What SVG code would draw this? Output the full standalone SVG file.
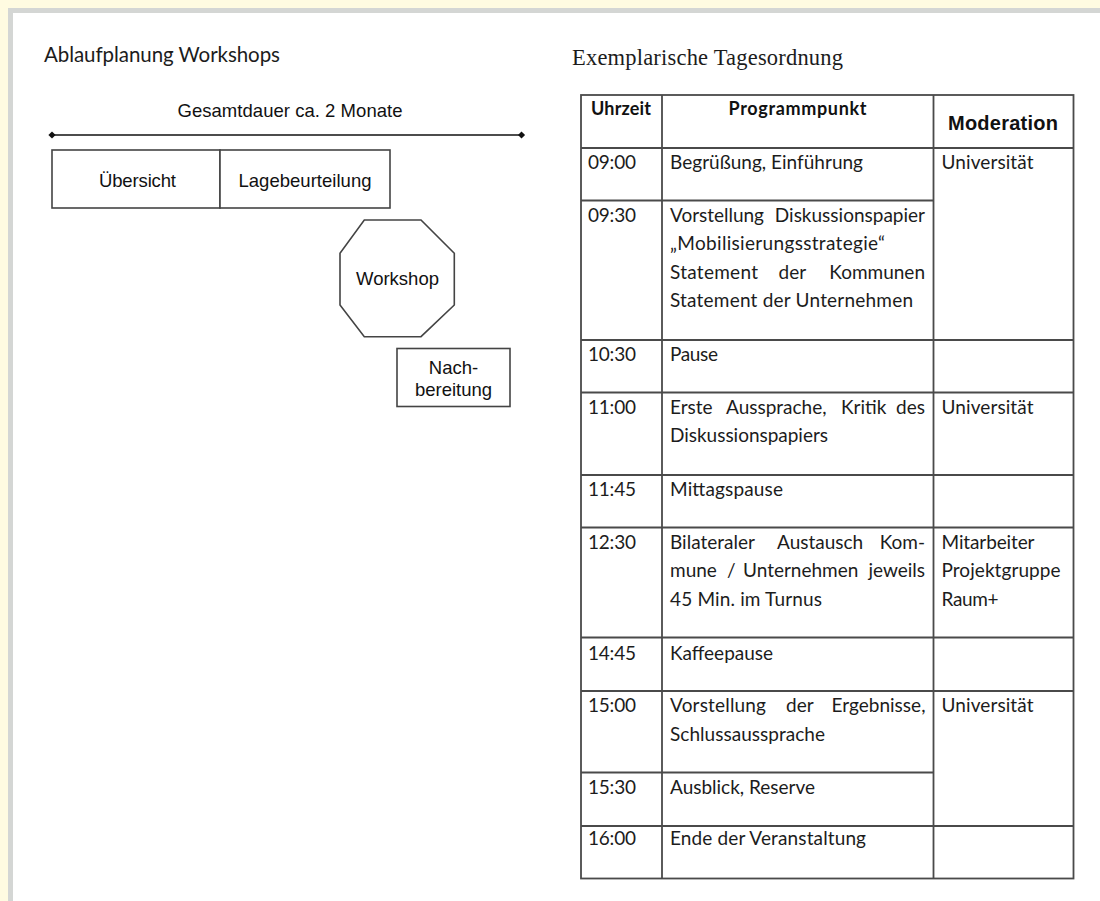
<svg xmlns="http://www.w3.org/2000/svg" width="1100" height="901" viewBox="0 0 1100 901">
<style>
.sans{font-family:Lato,"Open Sans","DejaVu Sans",sans-serif;fill:#1c1c1c}
.ar{font-family:"Liberation Sans",Arial,sans-serif;fill:#111;font-size:18.5px}
.cell{font-family:Lato,"Open Sans","DejaVu Sans",sans-serif;fill:#1c1c1c;font-size:19px}
.end{text-anchor:end}
.hd{font-family:Lato,"Open Sans","DejaVu Sans",sans-serif;fill:#111;font-size:18px;font-weight:bold}
.shape{fill:#fff;stroke:#444;stroke-width:1.6}
.tl{stroke:#4a4a4a;stroke-width:1.8;fill:none}
.mid{text-anchor:middle}
</style>
<defs>
<marker id="dia" viewBox="-5 -5 10 10" markerWidth="8" markerHeight="8" refX="0" refY="0" markerUnits="userSpaceOnUse">
<path d="M-4.5 0 L0 -4.5 L4.5 0 L0 4.5 Z" fill="#111"/>
</marker>
</defs>
<rect x="0" y="0" width="1100" height="901" fill="#fffbe1"/>
<rect x="8" y="8" width="1092" height="893" fill="#d4d6d4"/>
<rect x="13" y="13" width="1087" height="888" fill="#fff"/>

<text class="sans" x="44" y="61.5" font-size="20.5" textLength="236">Ablaufplanung Workshops</text>
<text x="572" y="65" font-family="'Liberation Serif','Times New Roman',serif" font-size="22.5" fill="#1c1c1c" textLength="271">Exemplarische Tagesordnung</text>

<g id="connectors">
<line x1="52" y1="135" x2="521.5" y2="135" stroke="#111" stroke-width="1.6" marker-start="url(#dia)" marker-end="url(#dia)"/>
</g>
<text class="ar mid" x="290" y="116.5" textLength="225">Gesamtdauer ca. 2 Monate</text>

<g id="uebersicht">
<rect class="shape" x="52" y="150" width="168" height="58"/>
<text class="ar mid" x="137.5" y="186.5" textLength="77">Übersicht</text>
</g>
<g id="lagebeurteilung">
<rect class="shape" x="220" y="150" width="170" height="58"/>
<text class="ar mid" x="305" y="186.5" textLength="133">Lagebeurteilung</text>
</g>
<g id="workshop">
<polygon class="shape" points="364.3,220 421,220 454.3,253.3 454.3,305 421,336.7 364.3,336.7 340,305 340,253.3"/>
<text class="ar mid" x="397.5" y="285" textLength="83">Workshop</text>
</g>
<g id="nachbereitung">
<rect class="shape" x="397" y="348.5" width="113" height="58"/>
<text class="ar mid" x="453.5" y="373.5">Nach-</text>
<text class="ar mid" x="453.5" y="396" textLength="77">bereitung</text>
</g>

<g id="table">
<rect class="tl" x="581" y="95" width="492.5" height="783.5"/>
<line class="tl" x1="662" y1="95" x2="662" y2="878.5"/>
<line class="tl" x1="933.5" y1="95" x2="933.5" y2="878.5"/>
<line class="tl" x1="581" y1="148" x2="1073.5" y2="148"/>
<line class="tl" x1="581" y1="200.5" x2="933.5" y2="200.5"/>
<line class="tl" x1="581" y1="340" x2="1073.5" y2="340"/>
<line class="tl" x1="581" y1="392.5" x2="1073.5" y2="392.5"/>
<line class="tl" x1="581" y1="475" x2="1073.5" y2="475"/>
<line class="tl" x1="581" y1="527.5" x2="1073.5" y2="527.5"/>
<line class="tl" x1="581" y1="637.5" x2="1073.5" y2="637.5"/>
<line class="tl" x1="581" y1="691" x2="1073.5" y2="691"/>
<line class="tl" x1="581" y1="772.5" x2="933.5" y2="772.5"/>
<line class="tl" x1="581" y1="826" x2="1073.5" y2="826"/>
</g>

<g id="header">
<text class="hd" x="591" y="115" textLength="60">Uhrzeit</text>
<text class="hd" x="728.5" y="114.5" textLength="138">Programmpunkt</text>
<text x="948" y="129.5" font-family="'Liberation Sans',Arial,sans-serif" font-weight="bold" font-size="20" fill="#111" textLength="110">Moderation</text>
</g>

<g id="row-0900">
<text class="cell" x="588" y="169" textLength="48">09:00</text>
<text class="cell" x="670" y="169" textLength="193">Begrüßung, Einführung</text>
<text class="cell" x="941.5" y="169" textLength="92">Universität</text>
</g>
<g id="row-0930">
<text class="cell" x="588" y="221.5" textLength="48">09:30</text>
<text class="cell" x="670" y="221.5" textLength="94">Vorstellung</text>
<text class="cell end" x="925" y="221.5">Diskussionspapier</text>
<text class="cell" x="670" y="250" textLength="215">„Mobilisierungsstrategie“</text>
<text class="cell" x="670" y="278.5" textLength="88">Statement</text>
<text class="cell" x="778.5" y="278.5">der</text>
<text class="cell end" x="925" y="278.5">Kommunen</text>
<text class="cell" x="670" y="307" textLength="243">Statement der Unternehmen</text>
</g>
<g id="row-1030">
<text class="cell" x="588" y="361" textLength="48">10:30</text>
<text class="cell" x="670" y="361" textLength="48">Pause</text>
</g>
<g id="row-1100">
<text class="cell" x="588" y="413.5" textLength="48">11:00</text>
<text class="cell" x="670" y="413.5">Erste</text>
<text class="cell" x="726" y="413.5">Aussprache,</text>
<text class="cell" x="841" y="413.5">Kritik</text>
<text class="cell end" x="925" y="413.5">des</text>
<text class="cell" x="670" y="442" textLength="158">Diskussionspapiers</text>
<text class="cell" x="941.5" y="413.5" textLength="92">Universität</text>
</g>
<g id="row-1145">
<text class="cell" x="588" y="495.5" textLength="48">11:45</text>
<text class="cell" x="670" y="495.5" textLength="113">Mittagspause</text>
</g>
<g id="row-1230">
<text class="cell" x="588" y="548.5" textLength="48">12:30</text>
<text class="cell" x="670" y="548.5">Bilateraler</text>
<text class="cell" x="777" y="548.5">Austausch</text>
<text class="cell end" x="925" y="548.5">Kom-</text>
<text class="cell" x="670" y="577">mune</text>
<text class="cell" x="727" y="577">/</text>
<text class="cell" x="743" y="577">Unternehmen</text>
<text class="cell end" x="925" y="577">jeweils</text>
<text class="cell" x="670" y="605.5" textLength="152">45 Min. im Turnus</text>
<text class="cell" x="941.5" y="548.5" textLength="93">Mitarbeiter</text>
<text class="cell" x="941.5" y="577" textLength="119">Projektgruppe</text>
<text class="cell" x="941.5" y="605.5" textLength="57">Raum+</text>
</g>
<g id="row-1445">
<text class="cell" x="588" y="660" textLength="48">14:45</text>
<text class="cell" x="670" y="660" textLength="103">Kaffeepause</text>
</g>
<g id="row-1500">
<text class="cell" x="588" y="712" textLength="48">15:00</text>
<text class="cell" x="670" y="712" textLength="96">Vorstellung</text>
<text class="cell" x="786" y="712">der</text>
<text class="cell" x="831.5" y="712" textLength="94">Ergebnisse,</text>
<text class="cell" x="670" y="740.5" textLength="155">Schlussaussprache</text>
<text class="cell" x="941.5" y="712" textLength="92">Universität</text>
</g>
<g id="row-1530">
<text class="cell" x="588" y="793.5" textLength="48">15:30</text>
<text class="cell" x="670" y="793.5" textLength="145">Ausblick, Reserve</text>
</g>
<g id="row-1600">
<text class="cell" x="588" y="845" textLength="48">16:00</text>
<text class="cell" x="670" y="845" textLength="196">Ende der Veranstaltung</text>
</g>
</svg>
